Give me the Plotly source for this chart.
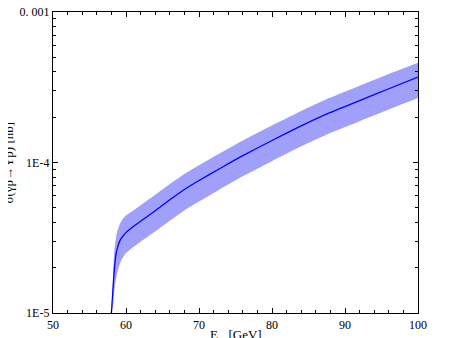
import plotly.graph_objects as go

# photon energy [GeV] and cross section [nb]
e_gamma = [58.0, 58.2, 58.4, 58.6, 58.8, 59.2, 59.6, 60, 61, 62, 64, 66, 68, 70, 73, 76, 80, 84, 88, 92, 96, 100]
sigma_mid = [1.0e-5, 1.4e-5, 1.95e-5, 2.4e-5, 2.68e-5, 3.05e-5, 3.25e-5, 3.42e-5, 3.75e-5, 4.07e-5,
             4.78e-5, 5.65e-5, 6.62e-5, 7.59e-5, 9.2e-5, 1.11e-4, 1.40e-4, 1.75e-4, 2.15e-4, 2.58e-4,
             3.09e-4, 3.7e-4]
sigma_hi = [1.0e-5, 1.6e-5, 2.6e-5, 3.1e-5, 3.5e-5, 3.95e-5, 4.25e-5, 4.45e-5, 4.8e-5, 5.2e-5,
            6.1e-5, 7.2e-5, 8.4e-5, 9.6e-5, 1.16e-4, 1.40e-4, 1.76e-4, 2.2e-4, 2.7e-4, 3.24e-4,
            3.88e-4, 4.6e-4]
sigma_lo = [1.0e-5, 1.1e-5, 1.4e-5, 1.65e-5, 1.85e-5, 2.15e-5, 2.35e-5, 2.5e-5, 2.75e-5, 2.98e-5,
            3.48e-5, 4.1e-5, 4.8e-5, 5.5e-5, 6.7e-5, 8.1e-5, 1.02e-4, 1.28e-4, 1.57e-4, 1.88e-4,
            2.25e-4, 2.68e-4]

x_ticks = [50, 60, 70, 80, 90, 100]
y_ticks = [1e-5, 1e-4, 1e-3]
y_ticktext = ["1E-5", "1E-4", "0. 001"]
y_minor = [m * 10 ** k for k in (-5, -4) for m in range(2, 10)]

font = "Liberation Serif"

fig = go.Figure()
fig.add_trace(go.Scatter(x=e_gamma, y=sigma_hi, mode="lines",
                         line=dict(width=0, shape="spline", smoothing=0.5),
                         hoverinfo="skip", showlegend=False))
fig.add_trace(go.Scatter(x=e_gamma, y=sigma_lo, mode="lines",
                         line=dict(width=0, shape="spline", smoothing=0.5),
                         fill="tonexty", fillcolor="rgb(160,160,250)",
                         hoverinfo="skip", showlegend=False))
fig.add_trace(go.Scatter(x=e_gamma, y=sigma_mid, mode="lines",
                         line=dict(color="#0000ff", width=1.3, shape="spline", smoothing=0.5),
                         showlegend=False))

axis_common = dict(showgrid=False, zeroline=False, showline=True, linecolor="black",
                   linewidth=1.3, mirror="ticks", ticks="inside", ticklen=5,
                   tickcolor="black", tickwidth=1, automargin=False,
                   ticklabeloverflow="allow",
                   tickfont=dict(family=font, size=12, color="black"))

fig.update_xaxes(range=[50, 100], tickvals=x_ticks,
                 minor=dict(dtick=2, ticks="inside", ticklen=3, tickcolor="black"),
                 **axis_common)
fig.update_yaxes(type="log", range=[-5, -3], tickvals=y_ticks, ticktext=y_ticktext,
                 minor=dict(tickvals=y_minor, ticks="inside", ticklen=3, tickcolor="black"),
                 **axis_common)

fig.add_annotation(text="σ(γp→Υp) [nb]", xref="paper", yref="paper", x=-0.123, y=0.5,
                   textangle=-90, showarrow=False, xanchor="center", yanchor="middle",
                   font=dict(family=font, size=13, color="black"))
fig.add_annotation(text="E<sub>γ</sub>  [GeV]", xref="paper", yref="paper", x=0.5, y=-0.04,
                   showarrow=False, xanchor="center", yanchor="top",
                   font=dict(family=font, size=13, color="black"))

# the page body adds an 8px offset, so margins are trimmed to land the axes where the reference has them
fig.update_layout(width=449, height=338, margin=dict(l=45, r=39, t=4, b=33),
                  plot_bgcolor="white", paper_bgcolor="white")

fig.write_html("out.html")
